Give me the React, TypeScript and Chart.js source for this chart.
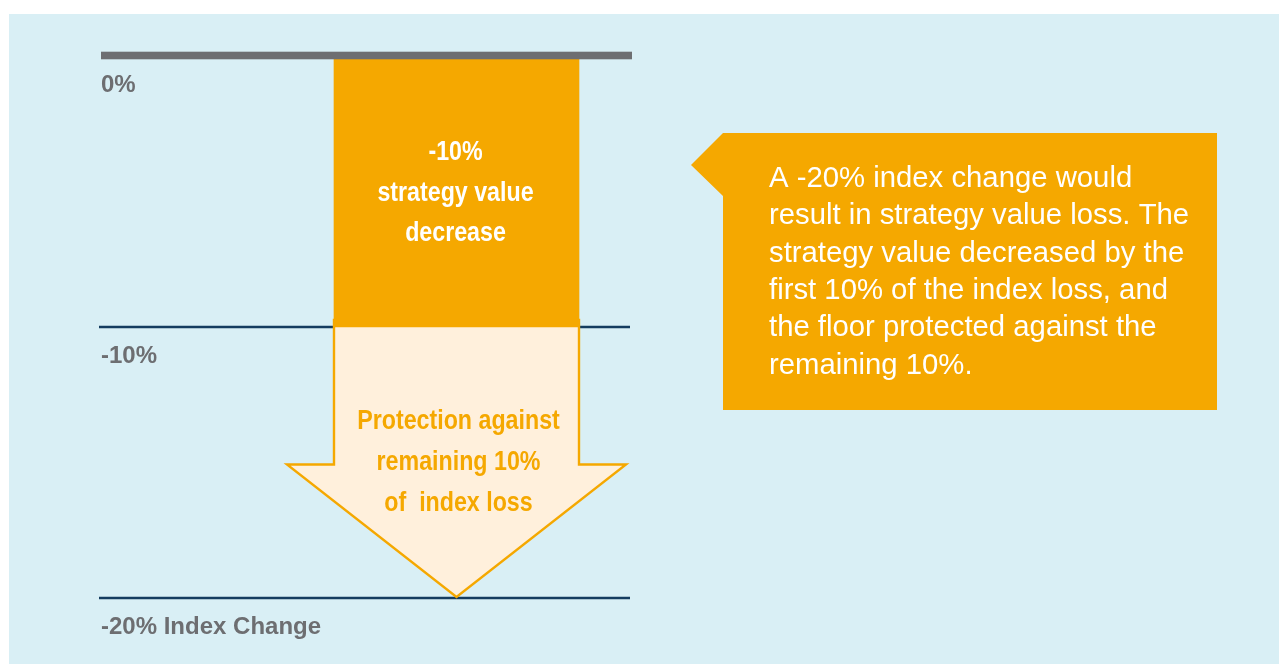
import { useEffect, useRef } from 'react';
import { Chart, registerables } from 'chart.js';

Chart.register(...registerables);

// ---- data ----
const categories: string[] = ['Index change'];
const strategyDecrease: [number, number][] = [[-10, 0]];
const floorProtection: [number, number][] = [[-20, -10]];
const yTickValues: number[] = [0, -10, -20];
const yTickLabels: string[] = ['0%', '-10%', '-20% Index Change'];
const barLabelLines: string[] = ['-10%', 'strategy value', 'decrease'];
const arrowLabelLines: string[] = ['Protection against', 'remaining 10%', 'of  index loss'];
const calloutLines: string[] = [
  'A -20% index change would',
  'result in strategy value loss. The',
  'strategy value decreased by the',
  'first 10% of the index loss, and',
  'the floor protected against the',
  'remaining 10%.',
];

// ---- styles ----
const BG = '#d9eff5';
const ORANGE = '#f5a800';
const CREAM = '#fff0dc';
const NAVY = '#143c5f';
const GRAY = '#6d6e71';
const SANS = "'Liberation Sans', Arial, sans-serif";
const CONDENSE = 0.86;

function condensedText(ctx: CanvasRenderingContext2D, text: string, x: number, y: number) {
  ctx.save();
  ctx.translate(x, y);
  ctx.scale(CONDENSE, 1);
  ctx.fillText(text, 0, 0);
  ctx.restore();
}

const refLinesPlugin = {
  id: 'refLines',
  beforeDatasetsDraw(chart: any) {
    const { ctx, chartArea, scales } = chart;
    const y = scales.y;
    ctx.save();
    yTickValues.forEach((v) => {
      if (v === 0) return;
      const py = y.getPixelForValue(v);
      ctx.strokeStyle = NAVY;
      ctx.lineWidth = 2.6;
      ctx.beginPath();
      ctx.moveTo(chartArea.left - 1, py);
      ctx.lineTo(chartArea.left + 530, py);
      ctx.stroke();
    });
    ctx.restore();
  },
  afterDatasetsDraw(chart: any) {
    const { ctx, chartArea, scales } = chart;
    const py = scales.y.getPixelForValue(0);
    ctx.save();
    ctx.fillStyle = GRAY;
    ctx.fillRect(chartArea.left + 1, py - 4.3, 531, 7.6);
    ctx.restore();
  },
};

const arrowPlugin = {
  id: 'arrowShape',
  beforeDatasetDraw(chart: any, args: any) {
    if (args.index !== 1) return;
    const { ctx, scales } = chart;
    const meta = chart.getDatasetMeta(1);
    const el = meta.data[0];
    const y = scales.y;
    const [lo, hi] = floorProtection[0];
    const top = y.getPixelForValue(hi) - 7;
    const tip = y.getPixelForValue(lo) - 1;
    const headBase = y.getPixelForValue((lo + hi) / 2) + 2;
    const half = el.width / 2;
    const headHalf = half + 47;
    const cx = el.x;
    ctx.save();
    ctx.beginPath();
    ctx.moveTo(cx - half, top);
    ctx.lineTo(cx - half, headBase);
    ctx.lineTo(cx - headHalf, headBase);
    ctx.lineTo(cx, tip);
    ctx.lineTo(cx + headHalf, headBase);
    ctx.lineTo(cx + half, headBase);
    ctx.lineTo(cx + half, top);
    ctx.closePath();
    ctx.fillStyle = CREAM;
    ctx.fill();
    ctx.strokeStyle = ORANGE;
    ctx.lineWidth = 2.4;
    ctx.lineJoin = 'miter';
    ctx.stroke();
    // label
    ctx.fillStyle = ORANGE;
    ctx.font = `bold 27px ${SANS}`;
    ctx.textAlign = 'center';
    ctx.textBaseline = 'middle';
    arrowLabelLines.forEach((t, i) => {
      condensedText(ctx, t, cx + 2, headBase - 43 + i * 41);
    });
    ctx.restore();
    return false;
  },
  afterDatasetsDraw(chart: any) {
    const { ctx } = chart;
    const el = chart.getDatasetMeta(0).data[0];
    const midY = (el.y + el.base) / 2;
    ctx.save();
    ctx.fillStyle = '#ffffff';
    ctx.font = `bold 27px ${SANS}`;
    ctx.textAlign = 'center';
    ctx.textBaseline = 'middle';
    barLabelLines.forEach((t, i) => {
      condensedText(ctx, t, el.x - 1, midY + 2 + (i - 1) * 40.5);
    });
    ctx.restore();
  },
};

const calloutPlugin = {
  id: 'callout',
  afterDraw(chart: any) {
    const { ctx } = chart;
    const left = 714;
    const right = 1208;
    const top = 119;
    const bottom = 396;
    ctx.save();
    ctx.fillStyle = ORANGE;
    ctx.beginPath();
    ctx.moveTo(left, top);
    ctx.lineTo(right, top);
    ctx.lineTo(right, bottom);
    ctx.lineTo(left, bottom);
    ctx.lineTo(left, 182);
    ctx.lineTo(682, 151);
    ctx.closePath();
    ctx.fill();
    ctx.fillStyle = '#ffffff';
    ctx.font = `29.3px ${SANS}`;
    ctx.textAlign = 'left';
    ctx.textBaseline = 'alphabetic';
    calloutLines.forEach((t, i) => {
      ctx.fillText(t, 760, 173 + i * 37.3);
    });
    ctx.restore();
  },
};

export default function App() {
  const ref = useRef<HTMLCanvasElement | null>(null);
  useEffect(() => {
    if (!ref.current) return;
    const chart = new Chart(ref.current, {
      type: 'bar',
      data: {
        labels: categories,
        datasets: [
          {
            label: 'Strategy value decrease',
            data: strategyDecrease as any,
            backgroundColor: ORANGE,
            borderWidth: 0,
            barThickness: 245,
            grouped: false,
          } as any,
          {
            label: 'Floor protection',
            data: floorProtection as any,
            backgroundColor: CREAM,
            borderWidth: 0,
            barThickness: 245,
            grouped: false,
          } as any,
        ],
      },
      options: {
        animation: false,
        responsive: true,
        maintainAspectRatio: false,
        layout: { padding: { left: 89, top: 42, right: 466, bottom: 66 } },
        plugins: { legend: { display: false }, tooltip: { enabled: false } },
        scales: {
          x: { display: false },
          y: {
            min: -20,
            max: 0,
            afterBuildTicks: (scale: any) => {
              scale.ticks = yTickValues.map((v) => ({ value: v }));
            },
            grid: { display: false, drawTicks: false },
            border: { display: false },
            ticks: {
              mirror: true,
              padding: 1,
              labelOffset: 29.5,
              color: GRAY,
              font: { family: SANS, size: 24, weight: 'bold' },
              callback: (v: any) => {
                const i = yTickValues.indexOf(Number(v));
                return i >= 0 ? yTickLabels[i] : '';
              },
            },
          },
        },
      },
      plugins: [refLinesPlugin, arrowPlugin, calloutPlugin],
    });
    return () => chart.destroy();
  }, []);
  return (
    <div
      style={{
        position: 'absolute',
        left: 9,
        top: 14,
        width: 1270,
        height: 650,
        background: BG,
      }}
    >
      <canvas ref={ref} />
    </div>
  );
}
